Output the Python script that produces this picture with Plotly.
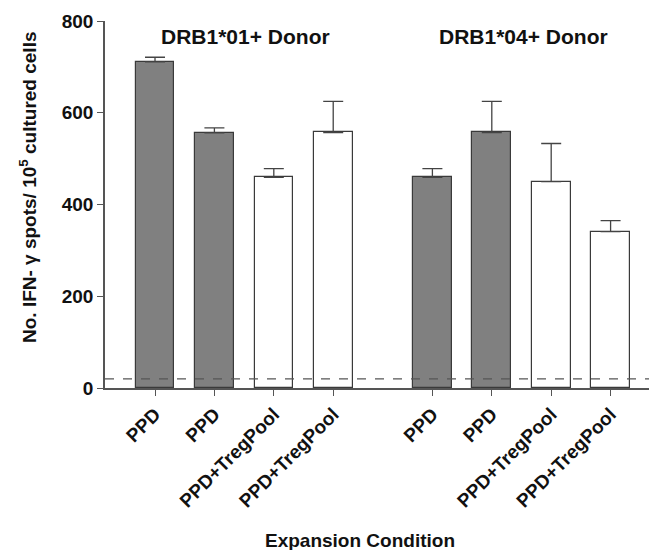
import plotly.graph_objects as go

# Data
labels = ["PPD", "PPD", "PPD+TregPool", "PPD+TregPool",
          "PPD", "PPD", "PPD+TregPool", "PPD+TregPool"]
positions = [0, 1, 2, 3, 4.67, 5.67, 6.67, 7.67]
values = [711, 556, 459, 557, 459, 557, 450, 341]
errors = [10, 11, 19, 68, 19, 68, 83, 24]
fills = ["#808080", "#808080", "#ffffff", "#ffffff",
         "#808080", "#808080", "#ffffff", "#ffffff"]
group_titles = ["DRB1*01+ Donor", "DRB1*04+ Donor"]
group_centers = [1.52, 6.2]
threshold = 20
y_ticks = [0, 200, 400, 600, 800]

FONT = "Liberation Sans, Arial, sans-serif"
PW, PH = 560, 367  # plot area size in px

fig = go.Figure()
fig.add_trace(go.Bar(
    x=positions, y=values, width=0.65,
    marker=dict(color=fills, line=dict(color="#3a3a3a", width=1.2)),
    error_y=dict(type="data", array=errors, arrayminus=[0] * len(errors),
                 symmetric=False, color="#444444", thickness=1.3, width=10),
    showlegend=False,
))

fig.add_shape(type="line", xref="paper", yref="y", x0=0, x1=1,
              y0=threshold, y1=threshold,
              line=dict(color="#555555", width=1.2, dash="dash"))

for t, c in zip(group_titles, group_centers):
    fig.add_annotation(x=c, xref="x", y=(367 - 16) / PH, yref="paper", text="<b>%s</b>" % t,
                       showarrow=False, font=dict(family=FONT, size=21, color="#111"),
                       xanchor="center", yanchor="middle")

fig.add_annotation(x=(360 - 105) / PW, xref="paper", y=-152 / PH, yref="paper",
                   text="<b>Expansion Condition</b>", showarrow=False,
                   xanchor="center", yanchor="middle",
                   font=dict(family=FONT, size=19, color="#111"))

fig.add_annotation(x=(28 - 105) / PW, xref="paper", y=(388 - 187) / PH, yref="paper",
                   text="<b>No. IFN- γ spots/ 10<sup>5</sup> cultured cells</b>",
                   textangle=-90, showarrow=False, xanchor="center", yanchor="middle",
                   font=dict(family=FONT, size=19, color="#111"))

fig.update_layout(
    width=657, height=550,
    margin=dict(l=97, r=0, t=13, b=170),
    plot_bgcolor="white", paper_bgcolor="white",
    font=dict(family=FONT, color="#111"),
    bargap=0,
    xaxis=dict(range=[-0.842, 8.586], tickvals=positions,
               ticktext=["<b>%s</b>" % l for l in labels],
               tickangle=-45, ticks="outside", ticklen=6, tickcolor="#555",
               tickfont=dict(family=FONT, size=19, color="#111"),
               showline=True, linecolor="#555", linewidth=1.5,
               showgrid=False, zeroline=False, automargin=False),
    yaxis=dict(range=[0, 800], tickvals=y_ticks,
               ticktext=["<b>%d</b>" % v for v in y_ticks],
               ticks="outside", ticklen=6, tickcolor="#555",
               tickfont=dict(family=FONT, size=19, color="#111"),
               showline=True, linecolor="#555", linewidth=1.5,
               showgrid=False, zeroline=False, automargin=False),
)

fig.write_html("out.html")
